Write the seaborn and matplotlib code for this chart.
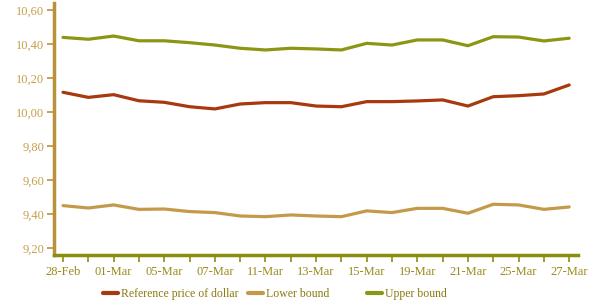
import pandas as pd
import numpy as np
import matplotlib.pyplot as plt
import seaborn as sns

dates = ["28-Feb", "29-Feb", "01-Mar", "04-Mar", "05-Mar", "06-Mar", "07-Mar",
         "08-Mar", "11-Mar", "12-Mar", "13-Mar", "14-Mar", "15-Mar", "18-Mar",
         "19-Mar", "20-Mar", "21-Mar", "22-Mar", "25-Mar", "26-Mar", "27-Mar"]

reference = [10.116, 10.086, 10.102, 10.066, 10.057, 10.031, 10.018, 10.047,
             10.055, 10.055, 10.035, 10.031, 10.061, 10.061, 10.065, 10.071,
             10.035, 10.090, 10.096, 10.106, 10.159]
lower = [9.449, 9.435, 9.453, 9.427, 9.429, 9.414, 9.408, 9.388, 9.384, 9.394,
         9.388, 9.384, 9.418, 9.408, 9.433, 9.433, 9.404, 9.457, 9.453, 9.427,
         9.441]
upper = [10.439, 10.428, 10.447, 10.419, 10.419, 10.408, 10.394, 10.375, 10.365,
         10.375, 10.371, 10.365, 10.404, 10.394, 10.424, 10.424, 10.390, 10.443,
         10.441, 10.418, 10.434]

series_names = ["Reference price of dollar", "Lower bound", "Upper bound"]
colors = ["#a8380e", "#c49a4a", "#8c9612"]

# table for seaborn
df = pd.DataFrame({
    "x": list(range(len(dates))) * 3,
    "value": reference + lower + upper,
    "series": np.repeat(series_names, len(dates)),
})

sns.set_style("white")
plt.rcParams["font.family"] = ["Liberation Serif", "DejaVu Serif"]

fig = plt.figure(figsize=(5.9, 3.06), dpi=100)
ax = fig.add_axes([0.0915, 0.167, 0.8885, 0.823])

sns.lineplot(data=df, x="x", y="value", hue="series", palette=colors,
             linewidth=2.3, ax=ax, legend=False)

ax.set_xlim(-0.356, len(dates) - 1 + 0.356)
ax.set_ylim(9.159, 10.641)

ax.set_xticks(range(len(dates)))
ax.set_xticklabels([d if i % 2 == 0 else "" for i, d in enumerate(dates)])
yt = [9.2, 9.4, 9.6, 9.8, 10.0, 10.2, 10.4, 10.6]
ax.set_yticks(yt)
ax.set_yticklabels([f"{v:.2f}".replace(".", ",") for v in yt])

ax.set_xlabel("")
ax.set_ylabel("")
for s in ["top", "right"]:
    ax.spines[s].set_visible(False)
ax.spines["left"].set_color("#b8923a")
ax.spines["left"].set_linewidth(2.5)
ax.spines["bottom"].set_color("#8c8c10")
ax.spines["bottom"].set_linewidth(2.5)

ax.tick_params(axis="x", direction="out", length=5, width=1.2, color="#8c8c10",
               labelcolor="#9a8a1c", labelsize=9, pad=3, bottom=True)
ax.tick_params(axis="y", direction="out", length=5, width=1.2, color="#b8923a",
               labelcolor="#c4a048", labelsize=9, pad=2, left=True)

# legend entries sit at fixed spots, like the original
legend_x = [103 / 590, 248 / 590, 367 / 590]
for name, c, lx in zip(series_names, colors, legend_x):
    h = plt.Line2D([], [], color=c, linewidth=3)
    fig.legend([h], [name], loc="center left", bbox_to_anchor=(lx, 0.04),
               frameon=False, fontsize=8.5, handlelength=1.3,
               handletextpad=0.2, borderpad=0, borderaxespad=0,
               labelcolor="#8a7a10")

fig.savefig("out.png", dpi=100)
